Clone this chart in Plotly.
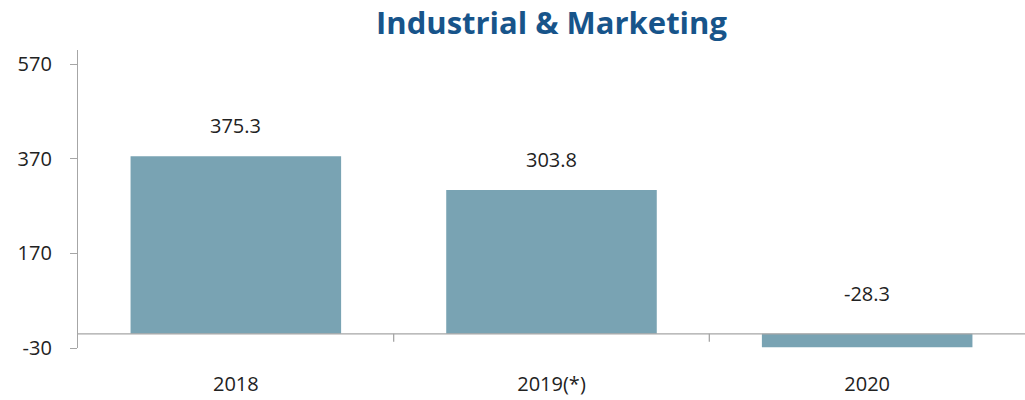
import plotly.graph_objects as go

categories = ["2018", "2019(*)", "2020"]
values = [375.3, 303.8, -28.3]
value_labels = ["375.3", "303.8", "-28.3"]
y_ticks = [-30, 170, 370, 570]
y_tick_labels = ["-30", "170", "370", "570"]

bar_color = "#79A3B3"
title_color = "#17548A"
axis_color = "#A6A6A6"
font_family = "Open Sans"

idx = list(range(len(categories)))

fig = go.Figure()
fig.add_trace(go.Bar(x=idx, y=values, marker=dict(color=bar_color, line=dict(width=0)),
                     hoverinfo="skip"))

for i, v, t in zip(idx, values, value_labels):
    fig.add_annotation(x=i, y=max(v, 0), text=t, showarrow=False, yanchor="bottom",
                       yshift=15 if v >= 0 else 25,
                       font=dict(size=20, color="#222222", family=font_family))

# zero baseline
fig.add_shape(type="line", xref="paper", yref="y", x0=0, x1=1, y0=0, y1=0,
              line=dict(color=axis_color, width=1.3))
# category boundary tick marks on baseline
for i in idx[1:]:
    fig.add_shape(type="line", xref="x", yref="y", x0=i - 0.5, x1=i - 0.5,
                  ysizemode="pixel", yanchor=0, y0=0, y1=-8,
                  line=dict(color=axis_color, width=1.3))

fig.update_layout(
    width=1025, height=400,
    margin=dict(l=78, r=0, t=50, b=52),
    paper_bgcolor="white", plot_bgcolor="white",
    bargap=0.333,
    showlegend=False,
    title=dict(text="<b>Industrial & Marketing</b>", x=0.5, xref="paper", xanchor="center",
               y=0.943, yref="container", yanchor="middle",
               font=dict(size=31, color=title_color, family=font_family)),
    font=dict(family=font_family, size=20, color="#222222"),
)
fig.update_yaxes(range=[-30, 600], tickvals=y_ticks, ticktext=y_tick_labels,
                 showgrid=False, zeroline=False,
                 showline=True, linecolor=axis_color, linewidth=1.3,
                 ticks="outside", ticklen=7, tickcolor=axis_color, tickwidth=1.3,
                 ticklabelstandoff=14, tickfont=dict(size=20, color="#222222"))
fig.update_xaxes(range=[-0.5, len(categories) - 0.5], tickvals=idx, ticktext=categories,
                 showgrid=False, zeroline=False, showline=False, ticks="",
                 ticklabelstandoff=22, tickfont=dict(size=20, color="#222222"))

fig.write_html("out.html", config={"displayModeBar": False},
               post_script="document.body.style.margin='0';")
